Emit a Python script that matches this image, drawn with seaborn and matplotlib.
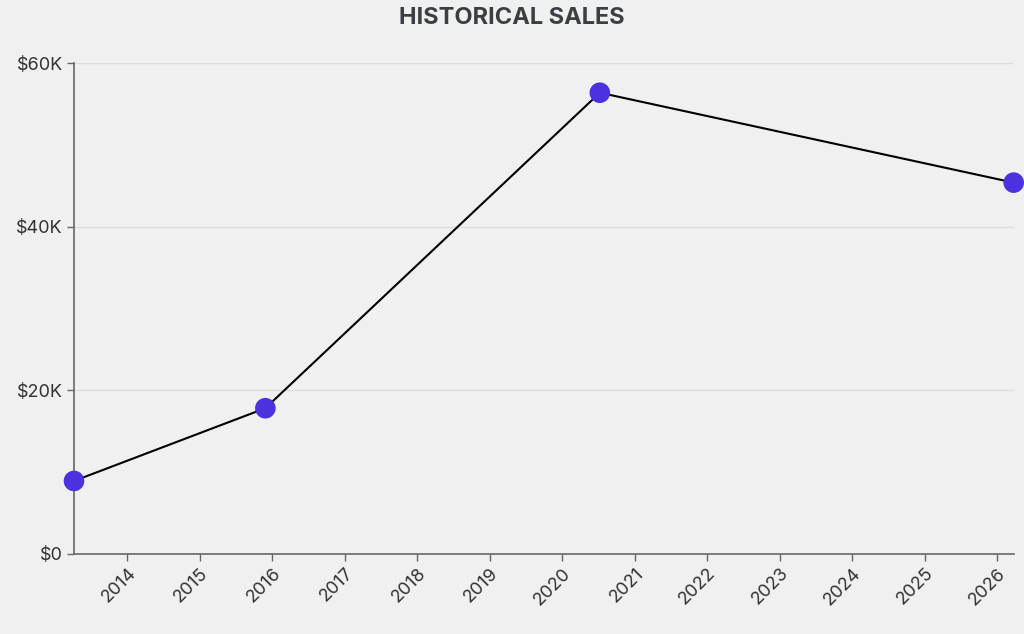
import pandas as pd
import numpy as np
import matplotlib
matplotlib.use("Agg")
import matplotlib.pyplot as plt
import matplotlib.dates as mdates
from matplotlib.ticker import FuncFormatter
import seaborn as sns

# Sales figures
dates = ["2013-04-08", "2015-11-28", "2020-07-09", "2026-03-25"]
sales = [8900, 17800, 56400, 45400]
y_ticks = [0, 20000, 40000, 60000]

df = pd.DataFrame({"date": pd.to_datetime(dates), "sales": sales})

bg = "#f0f0f0"
sns.set_theme(style="white")
plt.rcParams["font.family"] = ["Inter", "DejaVu Sans"]

fig = plt.figure(figsize=(10.24, 6.34), dpi=100, facecolor=bg)
ax = fig.add_axes([74 / 1024, 1 - 553.7 / 634, (1013.7 - 74) / 1024, (553.7 - 63.3) / 634])
ax.set_facecolor(bg)

sns.lineplot(data=df, x="date", y="sales", ax=ax, color="black", linewidth=1.5, zorder=3)
sns.scatterplot(data=df, x="date", y="sales", ax=ax, color="#4a33de", s=220,
                edgecolor="none", zorder=4, clip_on=False)

ax.set_xlim(df["date"].min(), df["date"].max())
ax.set_ylim(0, 60000)
ax.set_yticks(y_ticks)
ax.yaxis.set_major_formatter(FuncFormatter(lambda v, p: "$0" if v == 0 else f"${v/1000:.0f}K"))
ax.xaxis.set_major_locator(mdates.YearLocator())
ax.xaxis.set_major_formatter(mdates.DateFormatter("%Y"))

ax.grid(axis="y", color="#dcdcdc", linewidth=1)
ax.set_axisbelow(True)
for s in ["top", "right"]:
    ax.spines[s].set_visible(False)
for s in ["left", "bottom"]:
    ax.spines[s].set_color("#666666")
    ax.spines[s].set_linewidth(1.2)

ax.tick_params(axis="both", length=5, width=1, color="#666666", labelcolor="#333333",
               labelsize=13, pad=3, bottom=True, left=True)
for lbl in ax.get_xticklabels():
    lbl.set_rotation(45)
    lbl.set_ha("right")
    lbl.set_rotation_mode("anchor")

ax.set_xlabel("")
ax.set_ylabel("")
fig.suptitle("HISTORICAL SALES", y=1 - 18 / 634, va="center", fontsize=17,
             fontweight="bold", color="#3a3f44")

fig.savefig("out.png", dpi=100, facecolor=bg)
